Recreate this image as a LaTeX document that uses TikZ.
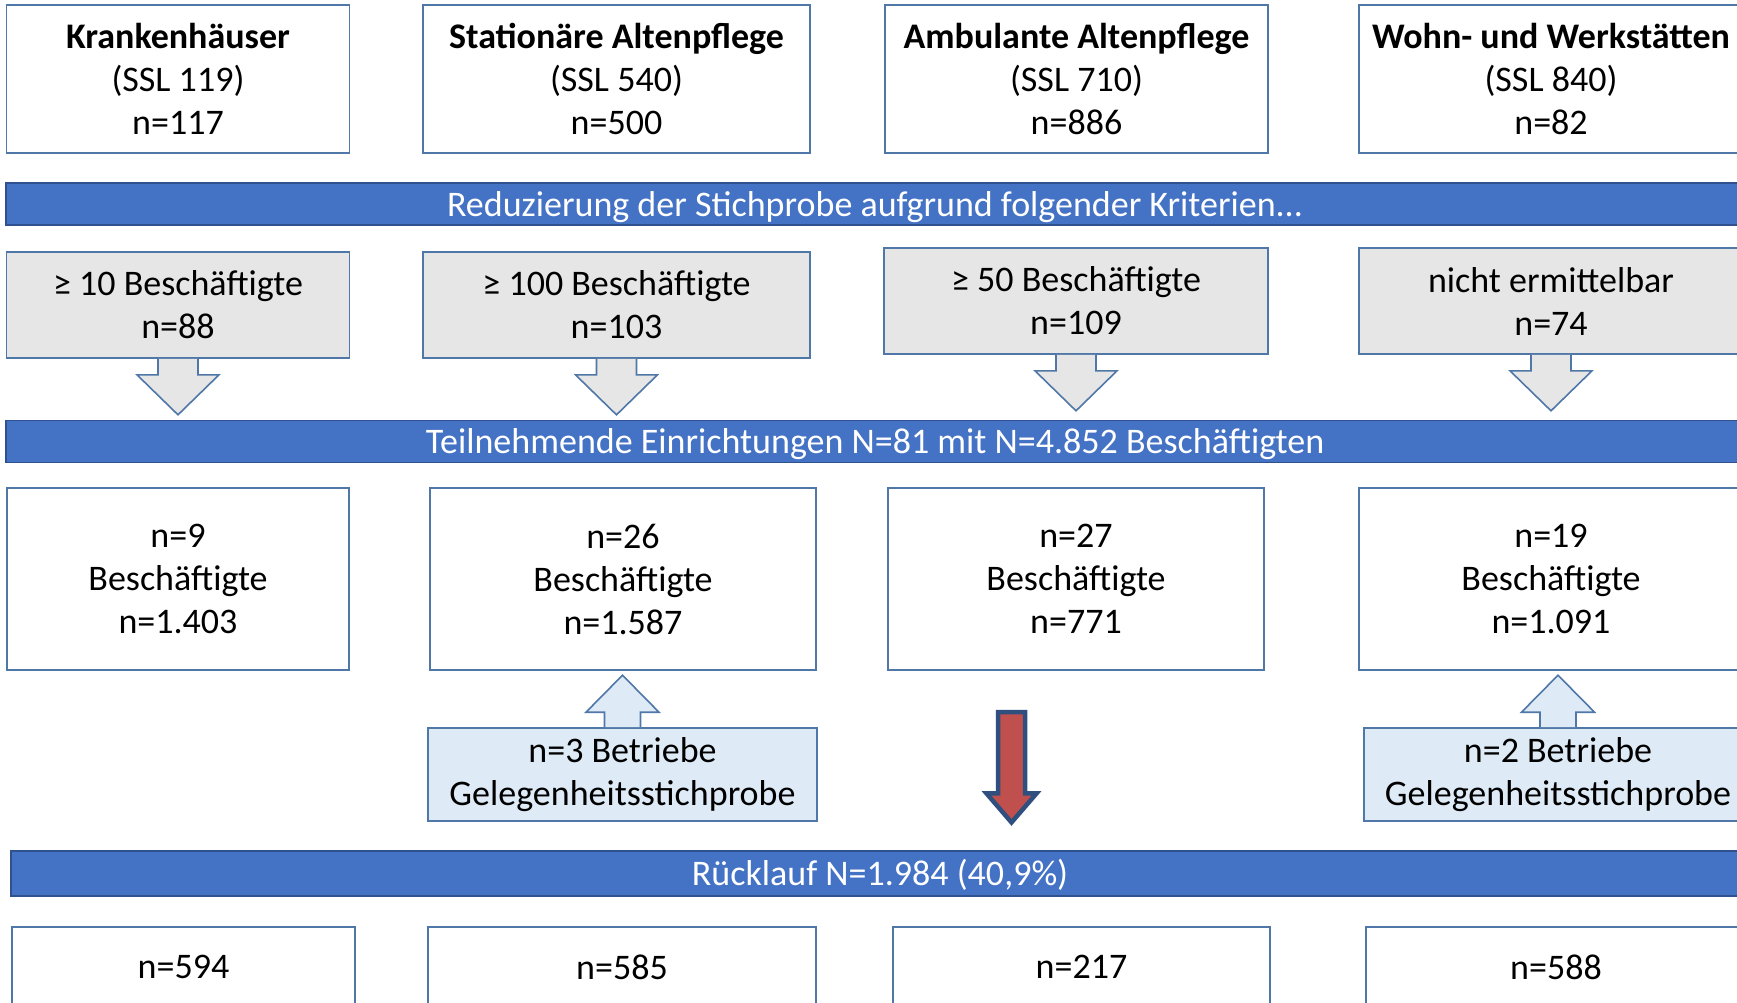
\documentclass[tikz,border=0pt]{standalone}
\usepackage{fontspec}
\setmainfont{Carlito}
\usetikzlibrary{calc}
\definecolor{barblue}{HTML}{4472C4}
\definecolor{barline}{HTML}{2F528F}
\definecolor{boxline}{HTML}{4F77A8}
\definecolor{grayfill}{HTML}{E7E6E6}
\definecolor{lightfill}{HTML}{DEEBF7}
\definecolor{redfill}{HTML}{C0504D}
\definecolor{darkline}{HTML}{2F4F7F}
\newcommand\downblock[1]{\draw[blockarrow] ($(#1.south)+(-20,0)$) -- ($(#1.south)+(-20,16)$) -- ($(#1.south)+(-41,16)$) -- ($(#1.south)+(0,56)$) -- ($(#1.south)+(41,16)$) -- ($(#1.south)+(20,16)$) -- ($(#1.south)+(20,0)$);}
\newcommand\upblock[1]{\draw[blockarrow, fill=lightfill] ($(#1.north)+(-18,0)$) -- ($(#1.north)+(-18,-15)$) -- ($(#1.north)+(-36.5,-15)$) -- ($(#1.north)+(0,-52)$) -- ($(#1.north)+(36.5,-15)$) -- ($(#1.north)+(18,-15)$) -- ($(#1.north)+(18,0)$);}
\begin{document}
\begin{tikzpicture}[x=1pt,y=-1pt,
 txt/.style={font=\fontsize{36}{43}\selectfont, align=center, text=black},
 plainbox/.style={txt, draw=boxline, line width=1.6pt, fill=white, inner sep=0pt},
 graybox/.style={plainbox, fill=grayfill},
 lightbox/.style={plainbox, fill=lightfill},
 bar/.style={draw=barline, line width=1.2pt, fill=barblue, text=white, font=\fontsize{36}{43}\selectfont, inner sep=0pt, minimum width=1738, text height=33pt, text depth=9pt},
 blockarrow/.style={draw=boxline, line width=1.6pt, fill=grayfill, line join=miter},
]
\useasboundingbox (0,0) rectangle (1737,1002);
\clip (0,0) rectangle (1737,1002);
\fill[white] (0,0) rectangle (1737,1002);

% row 1
\node[plainbox, minimum width=343, minimum height=148] (k1) at (178,79) {\textbf{Krankenhäuser}\\(SSL 119)\\n=117};
\node[plainbox, minimum width=387, minimum height=148] (k2) at (616.5,79) {\textbf{Stationäre Altenpflege}\\(SSL 540)\\n=500};
\node[plainbox, minimum width=383, minimum height=148] (k3) at (1076.5,79) {\textbf{Ambulante Altenpflege}\\(SSL 710)\\n=886};
\node[plainbox, minimum width=384, minimum height=148] (k4) at (1551,79) {\textbf{Wohn- und Werkstätten}\\(SSL 840)\\n=82};

% bar 1
\node[bar, minimum height=40] (bar1) at (875,204) {Reduzierung der Stichprobe aufgrund folgender Kriterien...};

% row 2
\node[graybox, minimum width=343, minimum height=106] (g1) at (178,305) {≥ 10 Beschäftigte\\n=88};
\node[graybox, minimum width=387, minimum height=106] (g2) at (616.5,305) {≥ 100 Beschäftigte\\n=103};
\node[graybox, minimum width=384, minimum height=106] (g3) at (1076,301) {≥ 50 Beschäftigte\\n=109};
\node[graybox, minimum width=384, minimum height=106] (g4) at (1551,301) {nicht ermittelbar\\n=74};
\downblock{g1}
\downblock{g2}
\downblock{g3}
\downblock{g4}

% bar 2
\node[bar, minimum height=39] (bar2) at (875,441.5) {Teilnehmende Einrichtungen N=81 mit N=4.852 Beschäftigten};

% row 3
\node[plainbox, minimum width=342, minimum height=182] (e1) at (178,579) {n=9\\Beschäftigte\\n=1.403};
\node[plainbox, minimum width=386, minimum height=182] (e2) at (623,579) {n=26\\Beschäftigte\\n=1.587};
\node[plainbox, minimum width=376, minimum height=182] (e3) at (1076,579) {n=27\\Beschäftigte\\n=771};
\node[plainbox, minimum width=384, minimum height=182] (e4) at (1551,579) {n=19\\Beschäftigte\\n=1.091};

% row 4
\node[lightbox, minimum width=389, minimum height=93] (l2) at (622.5,774.5) {n=3 Betriebe\\Gelegenheitsstichprobe};
\node[lightbox, minimum width=388, minimum height=93] (l4) at (1558,774.5) {n=2 Betriebe\\Gelegenheitsstichprobe};
\upblock{l2}
\upblock{l4}

% bar 3
\node[bar, minimum height=45] (bar3) at (880,873.5) {Rücklauf N=1.984 (40,9\%)};

% red arrow
\coordinate (rtop) at (1011.5,712);
\coordinate (rtip) at ($(bar3.north -| rtop)+(0,-28)$);
\draw[draw=darkline, line width=4.5pt, fill=redfill, line join=miter]
  ($(rtop)+(-13.5,0)$) -- ($(rtip)+(-13.5,-29)$) -- ($(rtip)+(-25,-29)$) -- (rtip)
  -- ($(rtip)+(25,-29)$) -- ($(rtip)+(13.5,-29)$) -- ($(rtop)+(13.5,0)$) -- cycle;

% row 5
\node[plainbox, minimum width=343, minimum height=150, anchor=north] (b1box) at (183.5,926) {};
\node[plainbox, minimum width=388, minimum height=150, anchor=north] (b2box) at (622,926) {};
\node[plainbox, minimum width=377, minimum height=150, anchor=north] (b3box) at (1081.5,926) {};
\node[plainbox, minimum width=380, minimum height=150, anchor=north] (b4box) at (1556,926) {};
\node[txt] (b1) at ($(b1box.north)+(0,41)$) {n=594};
\node[txt] (b2) at ($(b2box.north)+(0,41)$) {n=585};
\node[txt] (b3) at ($(b3box.north)+(0,41)$) {n=217};
\node[txt] (b4) at ($(b4box.north)+(0,41)$) {n=588};
\end{tikzpicture}
\end{document}
